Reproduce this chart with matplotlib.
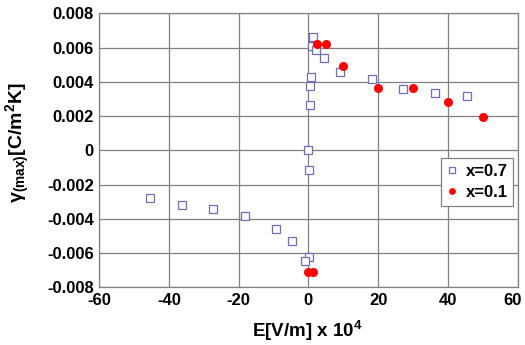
import matplotlib
matplotlib.use("Agg")
import matplotlib.pyplot as plt
from matplotlib.transforms import ScaledTranslation

# x=0.7 series (open squares)
e_07 = [-45.5, -36.4, -27.3, -18.1, -9.2, -4.6, 0.1, -0.9, 0.2, 0.0,
        0.5, 0.5, 0.7, 0.9, 1.4, 2.2, 4.5, 9.1, 18.1, 27.2, 36.3, 45.5]
g_07 = [-0.0028, -0.00319, -0.00345, -0.00384, -0.00458, -0.0053, -0.0062, -0.00648,
        -0.00117, 0.0, 0.00266, 0.00375, 0.0043, 0.00607, 0.00662, 0.00587,
        0.00537, 0.00457, 0.00418, 0.00356, 0.00333, 0.00315]

# x=0.1 series (filled red circles)
e_01 = [0.0, 1.2, 2.5, 5.0, 10.0, 20.0, 30.0, 40.0, 50.0]
g_01 = [-0.00712, -0.00712, 0.00619, 0.00619, 0.00496, 0.00364, 0.00364, 0.00282, 0.00194]

xticks = [-60, -40, -20, 0, 20, 40, 60]
xtick_labels = ["-60", "-40", "-20", "0", "20", "40", "60"]
yticks = [-0.008, -0.006, -0.004, -0.002, 0, 0.002, 0.004, 0.006, 0.008]
ytick_labels = ["-0.008", "-0.006", "-0.004", "-0.002", "0", "0.002", "0.004", "0.006", "0.008"]

plt.rcParams['font.family'] = 'Liberation Sans'
plt.rcParams['font.weight'] = 'bold'
plt.rcParams['axes.unicode_minus'] = False
# mixed math strings: plain parts bold, gamma and subscript regular
plt.rcParams['mathtext.fontset'] = 'custom'
plt.rcParams['mathtext.rm'] = 'Liberation Sans:bold'
plt.rcParams['mathtext.bf'] = 'Liberation Sans:bold'
plt.rcParams['mathtext.it'] = 'Liberation Sans:bold'
plt.rcParams['mathtext.sf'] = 'Liberation Sans'

fig = plt.figure(figsize=(5.25, 3.45), dpi=100)
ax = fig.add_axes([0.189, 0.167, 0.797, 0.794])

ax.plot(e_07, g_07, linestyle='none', marker='s', markersize=5.5,
        markerfacecolor='white', markeredgecolor='#6f6fb5', markeredgewidth=0.9,
        label='x=0.7', zorder=3)
ax.plot(e_01, g_01, linestyle='none', marker='o', markersize=5.5,
        markerfacecolor='#ff0000', markeredgecolor='#ff0000',
        label='x=0.1', zorder=4)

ax.set_xlim(-60, 60)
ax.set_ylim(-0.008, 0.008)
ax.set_xticks(xticks)
ax.set_xticklabels(xtick_labels, fontsize=12, fontweight='bold')
ax.set_yticks(yticks)
ax.set_yticklabels(ytick_labels, fontsize=12, fontweight='bold')
ax.tick_params(length=0, pad=4)
# last x label nudged left so it stays inside the figure
last = ax.get_xticklabels()[-1]
last.set_transform(last.get_transform() + ScaledTranslation(-5 / 100, 0, fig.dpi_scale_trans))

ax.grid(True, color='#808080', linewidth=0.9)
ax.set_axisbelow(True)
for s in ax.spines.values():
    s.set_color('#808080')
    s.set_linewidth(0.9)

ax.set_xlabel(r'E[V/m] x 10$^4$', fontsize=13.5, fontweight='bold')
ax.xaxis.set_label_coords(0.496, -0.115)
ax.set_ylabel(r'$\mathsf{γ}_{\mathsf{(max)}}$[C/m$^2$K]', fontsize=14, fontweight='bold')
ax.yaxis.set_label_coords(-0.16, 0.53)

leg = ax.legend(loc='upper left', bbox_to_anchor=(0.818, 0.471), borderaxespad=0,
                frameon=True, fancybox=False, edgecolor='#808080', framealpha=1,
                handlelength=0.6, handletextpad=0.5, borderpad=0.35,
                labelspacing=0.35, markerscale=0.7, prop={'weight': 'bold', 'size': 12})
leg.get_frame().set_linewidth(0.9)

fig.savefig('out.png', dpi=100)
